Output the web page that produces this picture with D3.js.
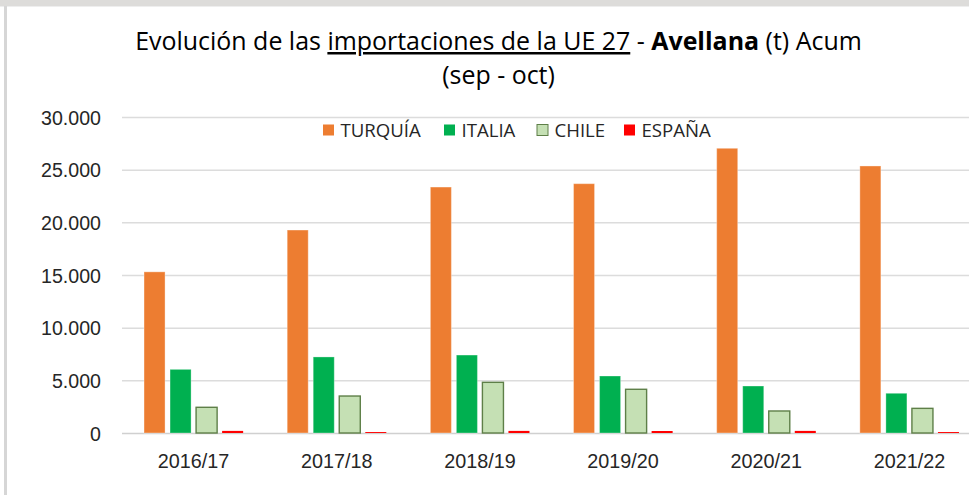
<!DOCTYPE html>
<html lang="es">
<head>
<meta charset="utf-8">
<script src="https://cdn.jsdelivr.net/npm/d3@7"></script>
<style>
    html, body { margin: 0; padding: 0; background: #fff; }
    svg { display: block; font-family: 'Open Sans', 'Noto Sans', sans-serif; }
</style>
</head>
<body>
<div id="chart"></div>
<script>
'use strict';

// chart values (t)
const seasons = ['2016/17', '2017/18', '2018/19', '2019/20', '2020/21', '2021/22'];
const seriesNames = ['TURQUÍA', 'ITALIA', 'CHILE', 'ESPAÑA'];
const turquia = [15300, 19270, 23350, 23670, 27030, 25350];
const italia = [6040, 7220, 7400, 5410, 4460, 3770];
const chile = [2440, 3510, 4810, 4150, 2090, 2340];
const espana = [200, 90, 200, 190, 200, 90];
const yTicks = [0, 5000, 10000, 15000, 20000, 25000, 30000];

const seriesValues = [turquia, italia, chile, espana];

const palette = {
    'TURQUÍA': { fill: '#ED7D31', stroke: 'rgba(255,255,255,0.35)', sw: 1 },
    'ITALIA': { fill: '#00B050', stroke: 'rgba(255,255,255,0.3)', sw: 1 },
    'CHILE': { fill: '#C5E0B4', stroke: '#5E7F48', sw: 1.4 },
    'ESPAÑA': { fill: '#FF0000', stroke: 'none', sw: 0 }
};

const width = 969, height = 495;
const plot = { left: 122, right: 981, top: 117, bottom: 433 };
const ink = '#262626';

const esLocale = d3.formatLocale({ decimal: ',', thousands: '.', grouping: [3], currency: ['', ' €'] });
const fmt = esLocale.format(',.0f');

const svg = d3.select('#chart').append('svg')
    .attr('width', width)
    .attr('height', height);

// window chrome: grey strip at the top, thin border on the left
svg.append('rect').attr('x', 0).attr('y', 0).attr('width', width).attr('height', 6).attr('fill', '#dddcda');
svg.append('line').attr('x1', 0).attr('x2', width).attr('y1', 6.5).attr('y2', 6.5).attr('stroke', '#eeeeee');
svg.append('rect').attr('x', 4).attr('y', 6).attr('width', 3).attr('height', height - 6).attr('fill', '#d6d6d6');

// scales
const x0 = d3.scaleBand()
    .domain(seasons)
    .range([plot.left, plot.right])
    .padding(0);

const x1 = d3.scaleBand()
    .domain(seriesNames)
    .range([0, x0.bandwidth()])
    .paddingInner(0.192)
    .paddingOuter(0.846);

const y = d3.scaleLinear()
    .domain([0, 30000])
    .range([plot.bottom, plot.top]);

// gridlines + y labels
const yAxis = d3.axisLeft(y)
    .tickValues(yTicks)
    .tickFormat(fmt)
    .tickSize(-(plot.right - plot.left))
    .tickPadding(21);

const axisY = svg.append('g')
    .attr('transform', `translate(${plot.left},0)`)
    .call(yAxis);
axisY.select('.domain').remove();
axisY.selectAll('.tick line')
    .attr('stroke', d => d === 0 ? '#d0d0d0' : '#dcdcdc')
    .attr('stroke-width', 1.5);
axisY.selectAll('.tick text')
    .attr('fill', ink)
    .style('font-size', '19.6px')
    .attr('dy', '0.36em');

// bars
const rows = [];
seasons.forEach((s, i) => {
    seriesNames.forEach((name, j) => {
        rows.push({ season: s, name, value: seriesValues[j][i] });
    });
});

svg.append('g').selectAll('rect')
    .data(rows)
    .join('rect')
    .attr('x', d => x0(d.season) + x1(d.name))
    .attr('width', x1.bandwidth())
    .attr('y', d => y(d.value))
    .attr('height', d => y(0) - y(d.value))
    .attr('fill', d => palette[d.name].fill)
    .attr('stroke', d => palette[d.name].stroke)
    .attr('stroke-width', d => palette[d.name].sw);

// x labels
const xAxis = d3.axisBottom(x0).tickSize(0).tickPadding(21);
const axisX = svg.append('g')
    .attr('transform', `translate(0,${plot.bottom})`)
    .call(xAxis);
axisX.select('.domain').remove();
axisX.selectAll('.tick text')
    .attr('fill', ink)
    .style('font-size', '19.8px');

// legend
const legendX = { 'TURQUÍA': 323, 'ITALIA': 444, 'CHILE': 537, 'ESPAÑA': 624 };
const legend = svg.append('g');
seriesNames.forEach(name => {
    const item = legend.append('g').attr('transform', `translate(${legendX[name]},124.5)`);
    item.append('rect')
        .attr('width', 11).attr('height', 11)
        .attr('fill', palette[name].fill)
        .attr('stroke', name === 'CHILE' ? palette[name].stroke : 'none')
        .attr('stroke-width', 1);
    item.append('text')
        .attr('x', 17.5).attr('y', 12.6)
        .attr('fill', ink)
        .style('font-size', '18.6px')
        .text(name);
});

// title
const title = svg.append('text')
    .attr('x', 498.5).attr('y', 50)
    .attr('text-anchor', 'middle')
    .attr('fill', '#000')
    .style('font-size', '24px');
title.append('tspan').text('Evolución de las ');
title.append('tspan').attr('text-decoration', 'underline').text('importaciones de la UE 27');
title.append('tspan').text(' - ');
title.append('tspan').attr('font-weight', 'bold').text('Avellana');
title.append('tspan').text(' (t) Acum');

// fit the title to the width it has in the reference
const titleSize = 24 * 727 / title.node().getComputedTextLength();
title.style('font-size', titleSize + 'px');

svg.append('text')
    .attr('x', 498.5).attr('y', 84)
    .attr('text-anchor', 'middle')
    .attr('fill', '#000')
    .style('font-size', titleSize + 'px')
    .text('(sep - oct)');
</script>
</body>
</html>
